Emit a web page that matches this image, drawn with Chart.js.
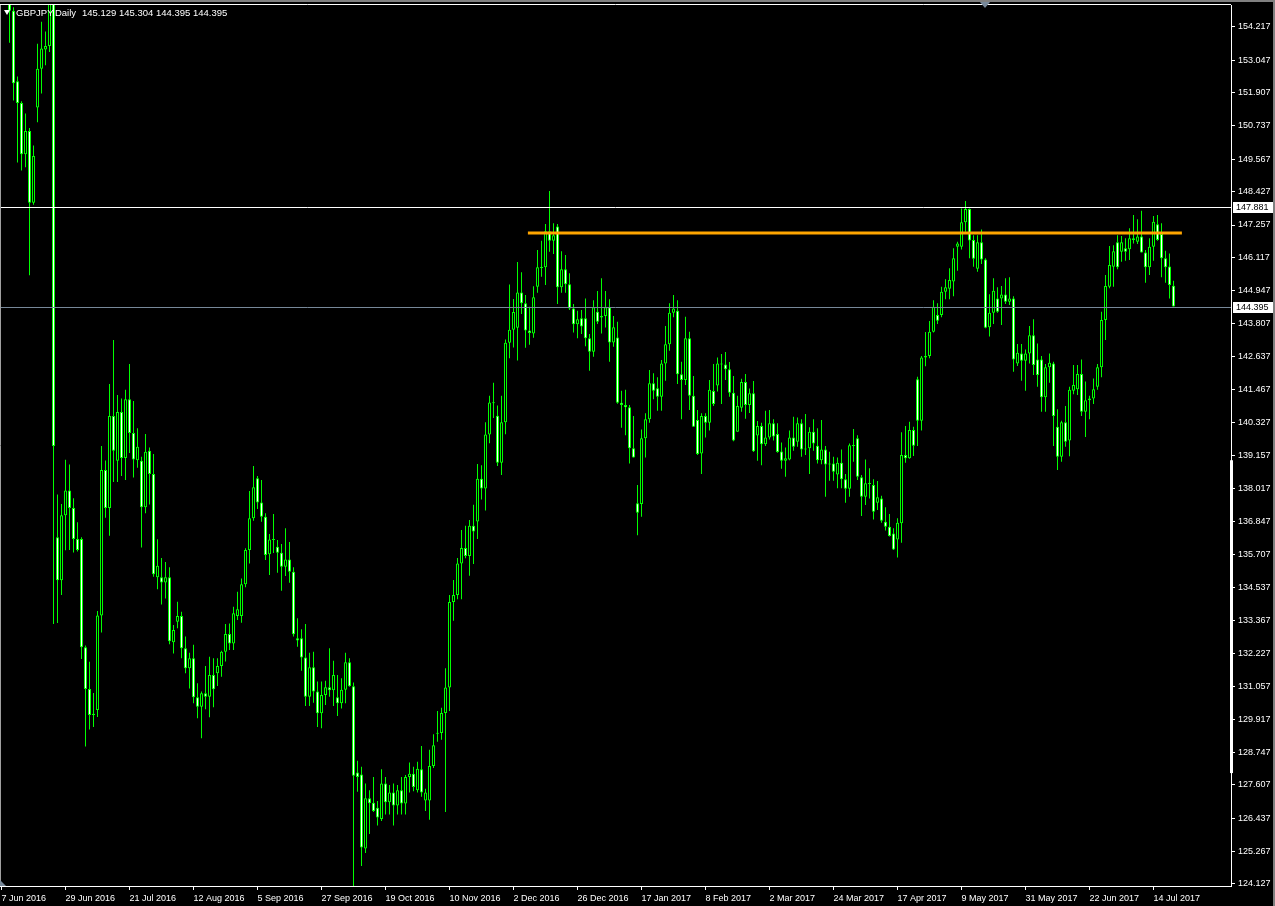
<!DOCTYPE html>
<html>
<head>
<meta charset="utf-8">
<title>GBPJPY Daily</title>
<script src="https://cdn.jsdelivr.net/npm/chart.js@4.4.1/dist/chart.umd.min.js"></script>
<style>
  html, body { margin: 0; padding: 0; background: #000; }
  #wrap { width: 1275px; height: 906px; }
</style>
</head>
<body>
<div id="wrap"><canvas id="chart" width="1275" height="906"></canvas></div>
<script>
/* ----------------------------------------------------------
   DATA — GBPJPY daily candles, one entry per trading day,
   index 0 = 7 Jun 2016
---------------------------------------------------------- */
const SYMBOL = 'GBPJPY,Daily';
const HEADER_VALUES = '145.129 145.304 144.395 144.395';

const opens = [
  155.9,155.6,155.3,154.78,152.30,151.54,149.74,150.56,148.04,151.38,
  152.74,153.42,153.54,157.5,136.30,134.79,137.07,137.94,137.32,136.24,
  136.24,132.44,130.97,130.06,130.23,133.55,138.66,137.32,140.55,138.98,
  140.69,139.08,141.14,139.96,139.0,138.98,137.35,139.33,138.52,134.89,
  134.89,134.71,134.89,132.61,133.33,133.53,132.40,131.70,132.05,130.68,
  130.35,130.82,130.70,131.46,131.52,131.78,132.28,132.90,132.57,133.53,
  133.53,134.65,135.85,136.96,138.37,137.52,137.02,135.70,136.22,135.96,
  135.75,135.26,135.52,135.09,132.75,132.75,132.08,130.70,131.73,130.88,
  130.12,130.76,131.03,130.93,130.68,130.47,130.94,131.91,131.07,128.04,
  127.97,125.37,127.14,126.98,126.80,126.41,127.65,127.0,127.34,126.88,
  127.42,126.95,127.88,128.0,127.42,128.15,127.06,127.06,128.27,129.4,
  129.43,130.13,131.02,134.02,134.27,135.38,135.92,135.64,136.70,136.85,
  138.35,138.01,139.90,141.03,140.56,138.91,140.33,143.12,143.58,143.65,
  144.89,144.51,143.55,143.45,145.09,145.77,145.77,147.04,146.70,147.2,
  145.07,145.70,145.18,144.33,143.77,143.98,143.98,143.28,142.81,144.21,
  144.06,144.06,144.37,143.13,143.31,141.02,140.94,140.86,139.42,137.49,
  137.46,139.77,140.44,141.70,141.53,141.23,142.40,143.07,144.18,144.25,
  142.02,141.82,143.28,141.26,140.41,139.24,140.55,140.32,141.43,141.62,
  142.40,142.36,142.19,141.37,140.0,140.84,141.75,140.94,141.35,139.87,
  140.20,139.56,139.80,140.30,139.92,139.31,138.98,139.03,139.80,139.65,
  140.30,139.38,139.42,140.0,139.51,139.0,139.38,138.85,138.89,138.50,
  138.91,138.33,138.0,139.53,139.77,138.40,137.72,138.19,138.13,137.51,
  137.66,136.84,136.67,136.43,136.22,136.79,139.18,139.07,140.06,141.84,
  140.39,142.61,142.66,143.51,144.10,144.10,144.91,145.02,145.27,146.49,
  146.49,147.35,147.82,146.73,145.72,146.65,146.05,143.67,144.18,144.68,
  144.68,144.82,144.56,144.68,142.40,142.75,142.49,142.75,143.39,142.54,
  142.54,141.21,142.26,142.40,140.18,139.12,140.33,139.69,141.44,141.49,
  142.03,140.70,141.11,141.17,141.58,142.26,143.92,145.09,145.79,146.65,
  146.32,146.44,146.41,146.79,146.67,146.85,146.29,145.77,146.49,147.28,
  146.94,146.09,145.80,145.129
];

const highs = [
  156.6,156.1,155.5,154.9,152.47,151.6,151.17,150.66,150.05,153.62,
  154.39,154.05,158.0,160.2,137.80,137.46,139.02,138.85,137.67,136.82,
  136.3,132.5,131.93,130.83,133.71,139.50,138.99,141.68,143.22,141.29,
  141.17,141.47,142.38,141.08,140.12,139.12,139.92,139.45,139.22,136.23,
  135.57,135.43,135.24,133.22,134.03,133.68,132.81,132.24,132.52,131.17,
  130.88,131.78,132.10,132.05,132.05,132.31,133.25,133.27,133.86,134.38,
  134.85,135.91,137.92,138.80,138.45,138.31,137.14,136.41,137.11,136.2,
  136.06,136.61,136.13,135.24,133.45,133.07,133.25,132.24,132.28,131.23,
  131.23,131.26,132.40,131.96,131.46,131.35,132.24,132.05,131.2,128.45,
  128.24,127.65,127.42,127.88,127.04,128.15,127.88,127.6,127.65,127.6,
  127.88,127.95,128.39,128.24,128.42,128.97,127.47,128.84,129.38,130.2,
  130.31,131.70,134.27,134.80,135.57,136.55,136.70,136.9,137.44,138.87,
  138.82,140.33,141.26,141.72,140.92,141.26,143.24,145.17,144.66,145.96,
  145.6,144.80,144.39,145.11,146.38,146.70,147.29,148.45,147.32,147.29,
  146.34,146.20,145.56,144.48,144.25,144.27,144.68,143.43,144.62,144.94,
  145.39,144.94,144.65,144.06,143.86,141.44,141.47,140.94,140.55,138.13,
  140.08,140.65,142.17,142.05,141.91,142.52,143.71,144.51,144.80,144.62,
  142.46,144.04,143.51,141.96,140.76,140.65,140.65,141.82,142.38,142.61,
  142.73,142.80,142.45,141.96,141.26,141.86,142.03,141.52,141.78,140.38,
  140.32,140.74,140.76,140.44,140.30,139.62,139.45,140.04,140.53,140.50,
  140.44,140.62,140.16,140.44,140.12,140.41,139.50,139.30,139.12,139.10,
  139.38,138.52,139.59,140.10,139.88,138.48,139.03,138.72,138.33,138.27,
  137.75,137.35,137.11,136.61,136.96,139.98,140.20,140.35,140.18,141.93,
  142.66,143.50,143.89,144.62,144.51,145.09,145.35,145.74,146.44,146.67,
  147.84,148.10,147.84,146.90,146.90,147.10,146.09,144.83,145.39,145.07,
  145.12,145.39,145.42,144.76,143.08,143.08,142.89,143.71,143.95,143.10,
  142.66,142.38,142.75,142.46,140.79,140.39,140.90,141.58,142.34,142.34,
  142.54,141.76,141.26,141.87,142.38,144.21,145.50,146.52,146.55,146.90,
  146.87,146.79,147.14,147.61,147.46,147.76,146.38,146.79,147.57,147.61,
  147.32,146.35,146.26,145.304
];

const lows = [
  155.3,155.1,153.65,151.63,149.45,149.17,149.28,145.49,147.97,150.86,
  151.87,152.86,153.33,133.25,133.29,134.27,135.84,135.85,135.76,135.8,
  132.02,128.95,129.55,129.64,129.99,132.95,136.98,136.35,138.24,138.24,
  138.45,138.31,139.25,138.39,138.74,135.94,137.14,137.45,134.91,134.47,
  133.94,134.15,132.54,132.22,133.1,132.05,131.52,130.99,130.47,129.94,
  129.24,130.26,129.98,130.33,131.08,131.40,131.94,132.34,132.34,133.39,
  133.30,134.54,135.38,136.88,137.29,136.84,135.50,134.97,135.74,135.05,
  134.42,134.94,134.70,132.81,132.45,131.61,130.37,130.37,130.49,129.64,
  129.59,130.41,130.70,130.37,130.02,130.29,130.47,131.05,123.5,127.36,
  124.76,125.21,125.88,126.65,126.18,126.34,126.57,126.57,126.18,126.57,
  126.57,126.57,127.34,127.38,127.34,127.19,126.69,126.38,128.2,129.12,
  129.19,126.65,130.2,133.37,134.12,134.12,135.56,134.95,135.36,136.24,
  137.62,137.24,139.60,140.48,138.80,138.48,139.91,142.58,142.96,142.5,
  144.13,142.95,143.05,143.3,144.88,145.44,145.15,146.32,146.24,144.48,
  144.88,144.88,144.27,143.48,143.28,143.43,143.0,142.14,142.63,143.78,
  143.45,143.66,142.46,142.98,140.98,140.14,139.88,138.89,139.10,136.37,
  137.02,139.10,140.32,141.14,140.74,140.74,141.79,142.84,144.02,141.68,
  140.44,141.64,140.76,140.18,139.18,138.52,139.80,140.04,140.90,141.41,
  140.97,141.82,141.23,139.67,140.0,140.70,140.46,140.66,139.29,138.98,
  138.82,139.50,139.73,139.69,139.26,138.70,138.42,139.0,139.33,139.47,
  139.12,139.18,138.52,139.33,138.89,138.86,137.72,138.28,138.28,138.02,
  138.02,137.51,137.72,138.95,138.31,137.04,137.43,137.66,136.92,137.25,
  136.81,136.53,136.32,135.85,135.59,136.10,138.91,139.05,139.15,139.50,
  140.04,142.30,142.58,143.48,143.78,144.02,144.65,144.65,144.76,145.65,
  146.40,147.02,146.09,145.79,145.62,145.89,143.63,143.34,143.78,144.18,
  143.75,144.48,144.45,142.11,142.31,141.79,141.44,142.40,141.99,141.58,
  140.70,140.70,141.72,139.50,138.66,138.95,139.47,139.14,141.32,141.29,
  140.55,139.82,140.44,140.97,141.47,141.91,143.22,145.04,145.09,145.70,
  145.97,146.0,146.03,146.61,146.59,146.29,145.23,145.50,146.0,146.70,
  145.42,145.23,144.68,144.395
];

const closes = [
  155.6,155.3,154.78,152.23,151.54,149.74,150.56,148.04,149.68,152.74,
  153.45,153.54,157.5,139.50,134.79,137.07,137.94,137.32,136.24,135.85,
  132.44,130.97,130.06,130.1,133.55,138.66,137.32,140.55,139.33,140.69,
  139.08,141.14,139.96,139.03,139.47,137.35,139.30,138.52,135.0,135.30,
  134.71,134.89,132.65,133.04,133.53,132.40,131.70,132.05,130.68,130.35,
  130.82,130.70,131.46,130.96,131.78,132.28,132.90,132.57,133.63,133.77,
  134.65,135.85,136.96,138.05,137.52,137.02,135.67,136.22,136.20,135.75,
  135.26,135.52,135.09,132.89,132.67,132.08,130.70,131.73,130.88,130.12,
  130.76,131.03,130.93,131.46,130.47,130.94,131.91,131.07,127.93,127.88,
  125.41,127.14,126.96,126.69,126.46,127.65,127.0,127.34,126.88,127.42,
  126.95,127.88,128.0,127.53,128.17,127.34,127.34,128.27,129.0,129.43,
  130.13,131.02,134.02,134.27,135.38,135.92,135.64,136.70,136.5,138.35,
  138.01,139.90,141.03,141.0,138.91,140.33,143.12,143.58,144.20,144.89,
  144.51,143.55,143.47,144.72,145.77,145.75,147.04,146.70,146.90,145.07,
  145.70,145.18,144.33,143.77,143.95,143.69,143.28,142.81,144.37,143.86,
  144.01,144.37,143.13,143.67,141.02,140.94,140.86,139.42,139.10,137.16,
  139.77,140.44,141.70,141.44,141.23,142.40,143.07,144.18,144.33,142.02,
  141.82,143.28,141.26,140.18,139.22,140.55,140.32,141.47,140.97,142.40,
  142.36,142.19,141.37,139.69,140.90,141.75,140.94,141.35,139.32,140.20,
  139.56,139.80,140.30,139.83,139.29,138.98,139.07,139.80,139.47,140.30,
  139.38,139.41,140.0,139.59,139.0,139.38,138.85,138.89,138.60,138.91,
  138.33,138.0,139.53,139.50,138.42,137.72,138.19,138.17,137.19,137.70,
  136.88,136.67,136.34,135.87,136.81,139.18,139.07,140.06,139.51,140.39,
  142.61,142.66,143.51,144.39,143.90,144.91,145.07,145.33,146.09,146.61,
  147.35,147.82,146.71,146.07,146.65,146.05,143.65,144.18,144.95,144.21,
  144.82,144.56,144.68,142.54,142.77,142.49,142.75,143.39,142.34,141.99,
  141.21,142.26,142.42,140.55,139.12,140.33,139.65,141.47,141.64,142.03,
  140.70,141.11,141.17,141.49,142.26,143.92,145.12,145.85,146.34,145.77,
  146.65,146.32,146.79,146.73,146.85,146.29,145.77,146.49,147.37,146.73,
  146.09,145.77,145.15,144.395
];

// one date label every 16 bars
const dateLabels = [
  '7 Jun 2016', '29 Jun 2016', '21 Jul 2016', '12 Aug 2016', '5 Sep 2016',
  '27 Sep 2016', '19 Oct 2016', '10 Nov 2016', '2 Dec 2016', '26 Dec 2016',
  '17 Jan 2017', '8 Feb 2017', '2 Mar 2017', '24 Mar 2017', '17 Apr 2017',
  '9 May 2017', '31 May 2017', '22 Jun 2017', '14 Jul 2017'
];
const LABEL_STEP = 16;

const priceTicks = [
  154.217, 153.047, 151.907, 150.737, 149.567, 148.427, 147.257, 146.117,
  144.947, 143.807, 142.637, 141.467, 140.327, 139.157, 138.017, 136.847,
  135.707, 134.537, 133.367, 132.227, 131.057, 129.917, 128.747, 127.607,
  126.437, 125.267, 124.127
];

const levelPrice = 147.881;   // horizontal line (white)
const bidPrice   = 144.395;   // bid line (slate gray)
const resistanceBars  = [131.6, 295.1];
const resistancePrice = 146.976;

/* ----------------------------------------------------------
   COLOURS / FONT
---------------------------------------------------------- */
const LIME  = '#00ff00';
const FONT  = "'Liberation Sans', Arial, sans-serif";

/* ----------------------------------------------------------
   PLUGIN — MT4 style frame, price lines, header text
---------------------------------------------------------- */
function hline(ctx, area, py, color) {
  const y = Math.round(py) + 0.5;
  ctx.strokeStyle = color;
  ctx.lineWidth = 1;
  ctx.beginPath();
  ctx.moveTo(area.left, y);
  ctx.lineTo(area.right, y);
  ctx.stroke();
}

const mt4Decor = {
  id: 'mt4Decor',
  beforeDraw(chart) {
    const { ctx, width, height } = chart;
    ctx.save();
    ctx.fillStyle = '#000';
    ctx.fillRect(0, 0, width, height);
    ctx.fillStyle = '#808080';
    ctx.fillRect(0, 0, width, 2);
    ctx.fillRect(width - 2, 0, 2, height);
    ctx.restore();
  },
  afterDatasetsDraw(chart) {
    const { ctx, chartArea: a, scales: { y } } = chart;
    ctx.save();
    hline(ctx, a, y.getPixelForValue(levelPrice), '#ffffff');
    hline(ctx, a, y.getPixelForValue(bidPrice), '#778899');
    ctx.restore();
  },
  afterDraw(chart) {
    const { ctx, chartArea: a, scales: { y } } = chart;
    ctx.save();

    // frame: top and left edge
    ctx.strokeStyle = '#ffffff';
    ctx.lineWidth = 1;
    ctx.beginPath();
    ctx.moveTo(0, a.top - 0.5);
    ctx.lineTo(a.right, a.top - 0.5);
    ctx.stroke();
    ctx.strokeStyle = '#a0a0a0';
    ctx.beginPath();
    ctx.moveTo(0.5, a.top);
    ctx.lineTo(0.5, a.bottom);
    ctx.stroke();

    // thick segment on the price axis
    const t1 = y.getPixelForValue(139.0), t2 = y.getPixelForValue(128.02);
    ctx.fillStyle = '#ffffff';
    ctx.fillRect(a.right - 1, t1, 3, t2 - t1);

    // price boxes on the axis
    ctx.font = '9px ' + FONT;
    ctx.textBaseline = 'middle';
    [levelPrice, bidPrice].forEach(p => {
      const py = Math.round(y.getPixelForValue(p));
      ctx.fillStyle = '#ffffff';
      ctx.fillRect(a.right + 2, py - 5, 40, 11);
      ctx.fillStyle = '#000000';
      ctx.fillText(p.toFixed(3), a.right + 5, py + 0.5);
    });

    // header: ▼ symbol, period, OHLC of last bar
    ctx.fillStyle = '#ffffff';
    ctx.beginPath();
    ctx.moveTo(4, 10);
    ctx.lineTo(10, 10);
    ctx.lineTo(7, 15);
    ctx.closePath();
    ctx.fill();
    ctx.font = '9.5px ' + FONT;
    ctx.textBaseline = 'alphabetic';
    ctx.fillText(SYMBOL, 16, 16);
    ctx.fillText(HEADER_VALUES, 82, 16);

    // chart shift marker and corner marker
    ctx.fillStyle = '#778899';
    ctx.beginPath();
    ctx.moveTo(980, 2);
    ctx.lineTo(990, 2);
    ctx.lineTo(985, 8);
    ctx.closePath();
    ctx.fill();
    ctx.beginPath();
    ctx.moveTo(0, a.bottom - 6);
    ctx.lineTo(0, a.bottom);
    ctx.lineTo(6, a.bottom);
    ctx.closePath();
    ctx.fill();

    ctx.restore();
  }
};

/* ----------------------------------------------------------
   DATASETS
---------------------------------------------------------- */
const wickData = highs.map((h, i) => ({ x: i, y: [lows[i], h] }));
const bodyData = opens.map((o, i) => ({ x: i, y: [o, closes[i]] }));
const bodyFill = opens.map((o, i) => closes[i] >= o ? '#000000' : '#ffffff');

const cfg = {
  type: 'bar',
  data: {
    datasets: [
      {
        type: 'line',
        data: resistanceBars.map(b => ({ x: b, y: resistancePrice })),
        borderColor: '#ffa500',
        borderWidth: 3,
        pointRadius: 0,
        order: 0,
      },
      {
        data: bodyData,
        backgroundColor: bodyFill,
        borderColor: LIME,
        borderWidth: 1,
        borderSkipped: false,
        inflateAmount: 0,
        grouped: false,
        categoryPercentage: 1,
        barPercentage: 1,
        maxBarThickness: 3,
        minBarLength: 1,
        order: 1,
      },
      {
        data: wickData,
        backgroundColor: LIME,
        borderWidth: 0,
        inflateAmount: 0,
        grouped: false,
        categoryPercentage: 1,
        barPercentage: 1,
        maxBarThickness: 1,
        order: 2,
      },
    ],
  },
  options: {
    responsive: false,
    animation: false,
    devicePixelRatio: 1,
    events: [],
    layout: { padding: { top: 5, left: 0, right: 0, bottom: 0 } },
    plugins: {
      legend: { display: false },
      tooltip: { enabled: false },
    },
    scales: {
      x: {
        type: 'linear',
        position: 'bottom',
        min: -0.375,
        max: 307.375,
        offset: false,
        afterFit: s => {
          s.height = 20;
          s.paddingLeft = 0;
          s.paddingRight = 0;
        },
        afterBuildTicks: s => {
          s.ticks = dateLabels.map((_, k) => ({ value: k * LABEL_STEP }));
        },
        ticks: {
          callback: (v, idx) => dateLabels[idx],
          align: 'start',
          autoSkip: false,
          maxRotation: 0,
          color: '#ffffff',
          padding: 3,
          font: { family: FONT, size: 9 },
        },
        grid: { drawOnChartArea: false, offset: false, tickLength: 4, color: '#ffffff' },
        border: { display: true, color: '#ffffff' },
      },
      y: {
        type: 'linear',
        position: 'right',
        min: 124.056,
        max: 154.979,
        afterFit: s => {
          s.width = 44;
          s.paddingTop = 0;
          s.paddingBottom = 0;
        },
        afterBuildTicks: s => {
          s.ticks = priceTicks.map(v => ({ value: v }));
        },
        ticks: {
          callback: v => v.toFixed(3),
          autoSkip: false,
          color: '#ffffff',
          padding: 3,
          font: { family: FONT, size: 9 },
        },
        grid: { drawOnChartArea: false, tickLength: 4, color: '#ffffff' },
        border: { display: true, color: '#ffffff' },
      },
    },
  },
  plugins: [mt4Decor],
};

new Chart(document.getElementById('chart').getContext('2d'), cfg);
</script>
</body>
</html>
